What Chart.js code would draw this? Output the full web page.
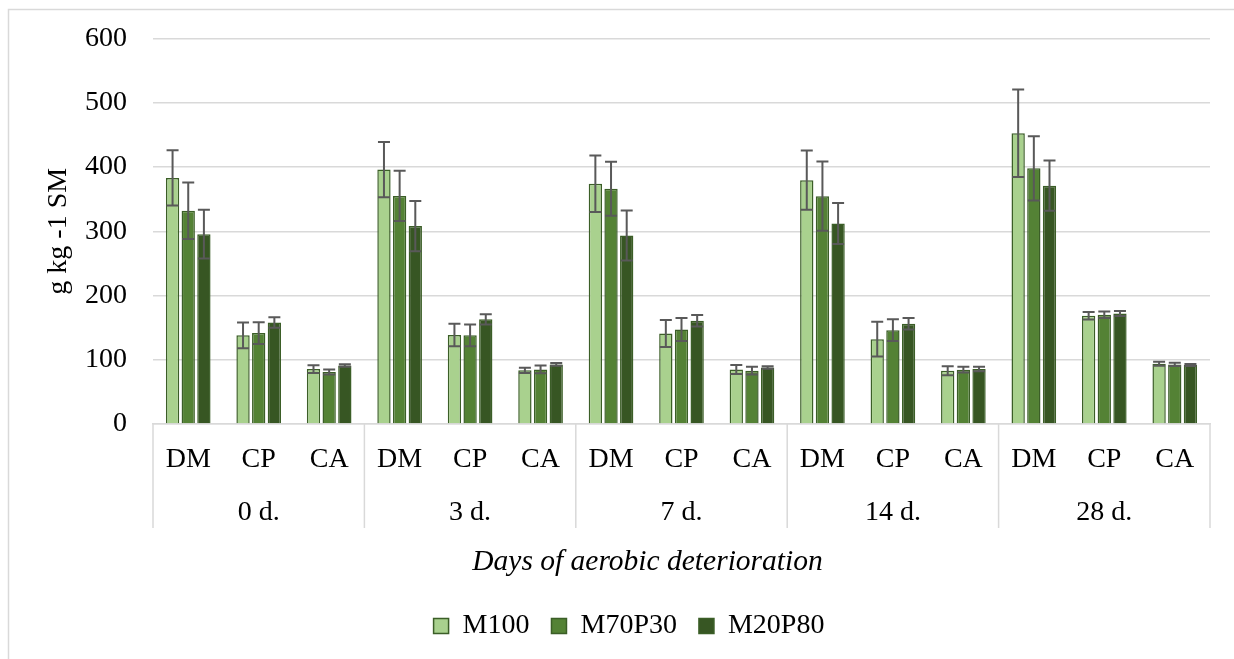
<!DOCTYPE html>
<html><head><meta charset="utf-8">
<script src="https://cdn.jsdelivr.net/npm/chart.js@4.4.1/dist/chart.umd.min.js"></script>
<style>html,body{margin:0;padding:0;background:#fff;overflow:hidden}#wrap{width:1234px;height:659px}</style>
</head><body><div id="wrap"><canvas id="c" width="1234" height="659"></canvas></div>
<script>
const days = ['0 d.', '3 d.', '7 d.', '14 d.', '28 d.'];
const components = ['DM', 'CP', 'CA'];
const seriesNames = ['M100', 'M70P30', 'M20P80'];
const m100 = [383, 138, 85.5, 396, 138.5, 83.5, 374, 141, 85, 379.5, 132, 83, 452.6, 168.5, 93.8];
const m70p30 = [332, 141.5, 81, 355, 138, 85, 366, 147, 83, 354.6, 146, 84.5, 398, 170, 92.8];
const m20p80 = [295.5, 158, 91, 308, 163, 92.8, 293.4, 160.7, 88, 312, 156, 85.5, 371, 172, 91.8];
const m100Err = [43, 20, 6, 43, 17.5, 4, 44, 21, 7, 46, 27, 7, 68, 6, 3];
const m70p30Err = [44, 17, 4, 39, 17, 6, 42, 18, 6, 54, 17, 4.5, 50, 5, 2.5];
const m20p80Err = [38, 8, 2, 39, 8, 2, 39, 9, 2, 32, 9, 3.5, 39, 4, 1.5];
const yTicks = [0, 100, 200, 300, 400, 500, 600];
const yTitle = 'g kg -1 SM';
const xTitle = 'Days of aerobic deterioration';

const labels = days.flatMap(() => components);
const FONT = 'Liberation Serif';
const colors = ['#A9D18E', '#548235', '#375623'];
const errs = [m100Err, m70p30Err, m20p80Err];

const frame = {
  id: 'frame',
  beforeDraw(chart) {
    const ctx = chart.ctx;
    ctx.save();
    ctx.fillStyle = '#fff';
    ctx.fillRect(0, 0, chart.width, chart.height);
    ctx.strokeStyle = '#D9D9D9';
    ctx.lineWidth = 1.5;
    ctx.beginPath();
    ctx.moveTo(8.5, chart.height);
    ctx.lineTo(8.5, 9.5);
    ctx.lineTo(chart.width, 9.5);
    ctx.stroke();
    ctx.restore();
  }
};

const errorBars = {
  id: 'errorBars',
  afterDatasetsDraw(chart) {
    const ctx = chart.ctx, y = chart.scales.y;
    ctx.save();
    ctx.strokeStyle = '#595959';
    ctx.lineWidth = 2;
    chart.data.datasets.forEach((ds, i) => {
      const meta = chart.getDatasetMeta(i);
      meta.data.forEach((el, j) => {
        const v = ds.data[j], e = errs[i][j];
        const yt = y.getPixelForValue(v + e), yb = y.getPixelForValue(v - e);
        const x = el.x, hw = 6;
        ctx.beginPath();
        ctx.moveTo(x, yt); ctx.lineTo(x, yb);
        ctx.moveTo(x - hw, yt); ctx.lineTo(x + hw, yt);
        ctx.moveTo(x - hw, yb); ctx.lineTo(x + hw, yb);
        ctx.stroke();
      });
    });
    ctx.restore();
  }
};

const groupAxis = {
  id: 'groupAxis',
  afterDraw(chart) {
    const ctx = chart.ctx, xs = chart.scales.x;
    const n = components.length;
    const top = xs.top;
    ctx.save();
    ctx.strokeStyle = '#D9D9D9';
    ctx.lineWidth = 1.5;
    ctx.beginPath();
    for (let g = 0; g <= days.length; g++) {
      let px;
      if (g === 0) px = xs.left;
      else if (g === days.length) px = xs.right;
      else px = (xs.getPixelForValue(g * n - 1) + xs.getPixelForValue(g * n)) / 2;
      ctx.moveTo(px, top); ctx.lineTo(px, top + 104);
    }
    ctx.stroke();
    ctx.fillStyle = '#000';
    ctx.font = '28px "' + FONT + '"';
    ctx.textAlign = 'center';
    ctx.textBaseline = 'middle';
    days.forEach((d, g) => {
      const px = xs.getPixelForValue(g * n + (n - 1) / 2);
      ctx.fillText(d, px, top + 88.5);
    });
    ctx.font = 'italic 29.5px "' + FONT + '"';
    ctx.fillText(xTitle, (xs.left + xs.right) / 2 - 34, top + 138);
    ctx.restore();
  }
};

new Chart(document.getElementById('c'), {
  type: 'bar',
  data: {
    labels: labels,
    datasets: [m100, m70p30, m20p80].map((d, i) => ({
      label: seriesNames[i],
      data: d,
      backgroundColor: colors[i],
      borderColor: '#3B5E27',
      borderWidth: 1.5,
      categoryPercentage: 0.667,
      barPercentage: 0.85
    }))
  },
  options: {
    responsive: false,
    animation: false,
    events: [],
    layout: { padding: { left: 48, right: 24, top: 38.5, bottom: 9 } },
    plugins: {
      tooltip: { enabled: false },
      legend: {
        position: 'bottom',
        maxHeight: 60,
        labels: {
          color: '#000',
          font: { family: FONT, size: 28 },
          boxWidth: 15,
          boxHeight: 15,
          padding: 22
        }
      }
    },
    scales: {
      x: {
        grid: { display: false },
        border: { color: '#D9D9D9', width: 1.5 },
        ticks: { color: '#000', font: { family: FONT, size: 28 }, padding: 11, autoSkip: false, maxRotation: 0, minRotation: 0 },
        afterFit: s => { s.height = 166; s.paddingLeft = 0; s.paddingRight = 0; }
      },
      y: {
        min: yTicks[0],
        max: yTicks[yTicks.length - 1],
        afterBuildTicks: s => { s.ticks = yTicks.map(v => ({ value: v })); },
        grid: { color: '#D9D9D9', lineWidth: 1.5, drawTicks: false },
        border: { display: false },
        ticks: { color: '#000', font: { family: FONT, size: 28 }, padding: 26 },
        title: { display: true, text: yTitle, color: '#000', font: { family: FONT, size: 28, lineHeight: 1 }, padding: { top: -3.5, bottom: 0 } },
        afterFit: s => { s.width = 105; s.paddingTop = 0; s.paddingBottom = 0; }
      }
    }
  },
  plugins: [frame, errorBars, groupAxis]
});
</script></body></html>
